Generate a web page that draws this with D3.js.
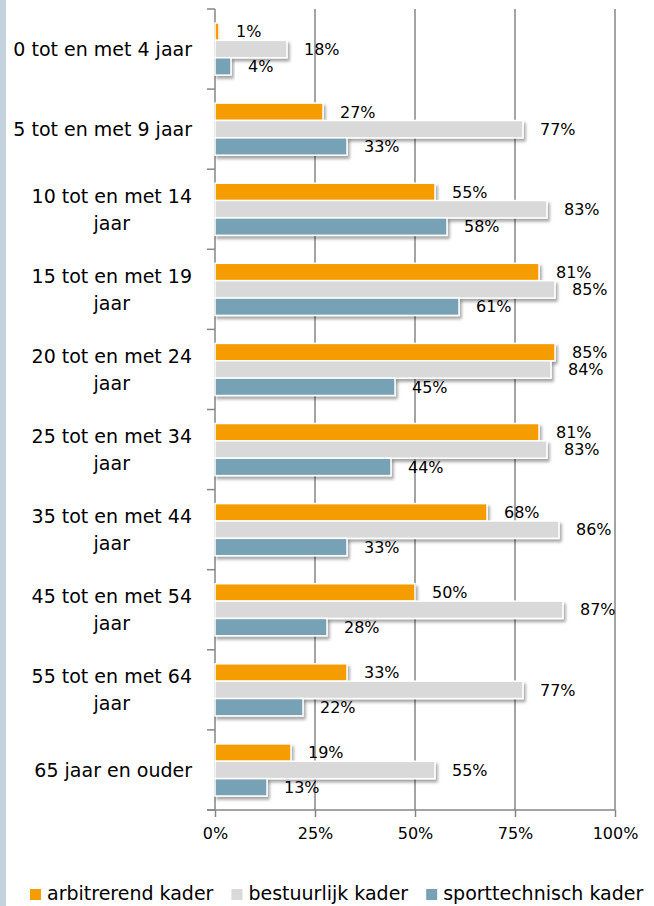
<!DOCTYPE html>
<html>
<head>
<meta charset="utf-8">
<script src="https://cdn.jsdelivr.net/npm/d3@7"></script>
<style>
  body { margin: 0; background: #fff; }
  svg text { font-family: "DejaVu Sans", sans-serif; fill: #000; }
</style>
</head>
<body>
<svg width="654" height="906"></svg>
<script>
// categories (age groups) and the three series
var categories = ["0 tot en met 4 jaar", "5 tot en met 9 jaar", "10 tot en met 14 jaar",
  "15 tot en met 19 jaar", "20 tot en met 24 jaar", "25 tot en met 34 jaar",
  "35 tot en met 44 jaar", "45 tot en met 54 jaar", "55 tot en met 64 jaar", "65 jaar en ouder"];
var seriesNames = ["arbitrerend kader", "bestuurlijk kader", "sporttechnisch kader"];
var arbitrerend = [1, 27, 55, 81, 85, 81, 68, 50, 33, 19];
var bestuurlijk = [18, 77, 83, 85, 84, 83, 86, 87, 77, 55];
var sporttechnisch = [4, 33, 58, 61, 45, 44, 33, 28, 22, 13];
var xTicks = [0, 25, 50, 75, 100];
var colors = ["#F59D00", "#D9D9D9", "#77A1B5"];

var series = [arbitrerend, bestuurlijk, sporttechnisch];
var data = categories.map(function (c, i) {
  return { cat: c, values: series.map(function (s, j) { return { key: seriesNames[j], v: s[i] }; }) };
});

var svg = d3.select("svg");
var labelSize = 19, valueSize = 16;

// left accent strip
svg.append("rect").attr("x", 0).attr("y", 0).attr("width", 6).attr("height", 906).attr("fill", "#C3D2DC");

var defs = svg.append("defs");
var f = defs.append("filter").attr("id", "shadow").attr("x", "-10%").attr("y", "-30%").attr("width", "130%").attr("height", "200%");
f.append("feDropShadow").attr("dx", 2).attr("dy", 3).attr("stdDeviation", 1.8)
  .attr("flood-color", "#000").attr("flood-opacity", 0.35);

var x = d3.scaleLinear().domain([0, 100]).range([215, 615]);
var y = d3.scaleBand().domain(categories).range([9, 810]);
var yInner = d3.scaleBand().domain(seriesNames).range([14, y.bandwidth() - 14]);

var axisColor = "#868686";

// gridlines
svg.append("g").selectAll("line").data(xTicks.slice(1)).enter().append("line")
  .attr("x1", function (d) { return x(d); }).attr("x2", function (d) { return x(d); })
  .attr("y1", 9).attr("y2", 810)
  .attr("stroke", axisColor).attr("stroke-width", 1.5);

// bottom axis
var xAxis = svg.append("g").attr("transform", "translate(0,810)")
  .call(d3.axisBottom(x).tickValues(xTicks).tickSize(7).tickPadding(10)
    .tickFormat(function (d) { return d + "%"; }));
xAxis.select(".domain").remove();
xAxis.selectAll("line").attr("stroke", axisColor).attr("stroke-width", 1.5);
xAxis.selectAll("text").style("font-size", valueSize + "px").attr("font-family", null).attr("dy", "0.75em");
svg.append("line").attr("x1", 207).attr("x2", 615).attr("y1", 810).attr("y2", 810)
  .attr("stroke", axisColor).attr("stroke-width", 1.5);

// left axis with ticks at category boundaries
var bounds = categories.map(function (c) { return y(c); }).concat([810]);
svg.append("line").attr("x1", 215).attr("x2", 215).attr("y1", 9).attr("y2", 810)
  .attr("stroke", axisColor).attr("stroke-width", 1.5);
svg.append("g").selectAll("line").data(bounds).enter().append("line")
  .attr("x1", 207).attr("x2", 215)
  .attr("y1", function (d) { return d; }).attr("y2", function (d) { return d; })
  .attr("stroke", axisColor).attr("stroke-width", 1.5);

// bars
var groups = svg.append("g").selectAll("g").data(data).enter().append("g")
  .attr("transform", function (d) { return "translate(0," + y(d.cat) + ")"; });

groups.selectAll("rect").data(function (d) { return d.values; }).enter().append("rect")
  .attr("x", x(0))
  .attr("y", function (d) { return yInner(d.key); })
  .attr("width", function (d) { return x(d.v) - x(0); })
  .attr("height", yInner.bandwidth())
  .attr("fill", function (d, i) { return colors[i]; })
  .attr("stroke", "#fff").attr("stroke-width", 1.5)
  .attr("filter", "url(#shadow)");

groups.selectAll("text.val").data(function (d) { return d.values; }).enter().append("text")
  .attr("class", "val")
  .attr("x", function (d) { return x(d.v) + 17; })
  .attr("y", function (d) { return yInner(d.key) + yInner.bandwidth() / 2; })
  .attr("dy", "0.36em")
  .style("font-size", valueSize + "px")
  .text(function (d) { return d.v + "%"; });

// category labels, wrapped like Excel: block right aligned, lines centered
var labelRight = 192, maxW = 190;
categories.forEach(function (c) {
  var t = svg.append("text").style("font-size", labelSize + "px").attr("text-anchor", "middle");
  var words = c.split(" "), lines = [], cur = [];
  words.forEach(function (w) {
    cur.push(w);
    t.text(cur.join(" "));
    if (t.node().getComputedTextLength() > maxW && cur.length > 1) {
      cur.pop(); lines.push(cur.join(" ")); cur = [w];
    }
  });
  lines.push(cur.join(" "));
  var widths = lines.map(function (l) { t.text(l); return t.node().getComputedTextLength(); });
  var cx = labelRight - d3.max(widths) / 2;
  t.text(null);
  var lh = 27, cy = y(c) + y.bandwidth() / 2;
  lines.forEach(function (l, i) {
    t.append("tspan").attr("x", cx)
      .attr("y", cy + (i - (lines.length - 1) / 2) * lh)
      .attr("dy", "0.36em").text(l);
  });
});

// legend
var legend = svg.append("g");
var lx = 30;
seriesNames.forEach(function (s, i) {
  legend.append("rect").attr("x", lx).attr("y", 889).attr("width", 11).attr("height", 11).attr("fill", colors[i]);
  var t = legend.append("text").attr("x", lx + 17).attr("y", 900).style("font-size", labelSize + "px").text(s);
  lx += 17 + t.node().getComputedTextLength() + 18;
});
</script>
</body>
</html>
